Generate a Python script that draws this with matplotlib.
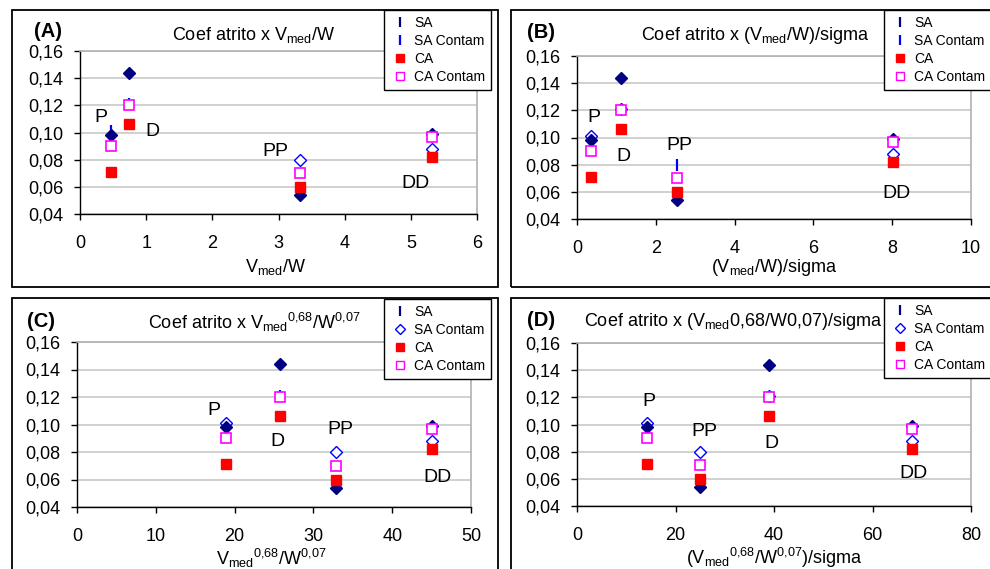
import matplotlib
matplotlib.use('Agg')
import matplotlib.pyplot as plt
from matplotlib.patches import Rectangle
from matplotlib.lines import Line2D
from matplotlib.ticker import FuncFormatter

plt.rcParams['font.family'] = ['Liberation Sans', 'DejaVu Sans']
plt.rcParams['mathtext.fontset'] = 'custom'
plt.rcParams['mathtext.rm'] = 'Liberation Sans'
plt.rcParams['mathtext.it'] = 'Liberation Sans'

W, H = 990, 569

# data (same friction coefficients in all four panels)
groups = ['P', 'D', 'PP', 'DD']
sa = [0.098, 0.144, 0.054, 0.099]
sa_contam = [0.101, 0.121, 0.080, 0.088]
ca = [0.071, 0.106, 0.060, 0.082]
ca_contam = [0.090, 0.120, 0.070, 0.097]

x_a = [0.47, 0.74, 3.33, 5.32]
x_b = [0.36, 1.12, 2.53, 8.03]
x_c = [18.9, 25.7, 32.9, 45.1]
x_d = [14.3, 39.0, 25.0, 68.0]

y_ticks = [0.04, 0.06, 0.08, 0.10, 0.12, 0.14, 0.16]

# where the P/D/PP/DD labels sit, in data units of each panel
lab_a = [(0.32, 0.111), (1.09, 0.101), (2.95, 0.0857), (5.07, 0.0628)]
lab_b = [(0.43, 0.115), (1.19, 0.0857), (2.61, 0.0938), (8.12, 0.059)]
lab_c = [(17.4, 0.110), (25.4, 0.0873), (33.4, 0.096), (45.7, 0.0618)]
lab_d = [(14.6, 0.117), (39.4, 0.0857), (25.8, 0.0945), (68.4, 0.0636)]

vw_pow = r'$\mathrm{V_{med}{}^{0{,}68}/W^{0{,}07}}$'

panels = [
    dict(name='(A)', x=x_a, xmax=6, step=1, labs=lab_a,
         ax=(80, 51, 477, 214), box=(12, 10, 498, 287), leg=(384, 10),
         title=r'Coef atrito x V$_{\mathrm{med}}$/W', tpos=(254, 40), npos=(34, 37),
         xlabel=r'V$_{\mathrm{med}}$/W', xpos=(276, 272),
         cmk=['|', '|', 'D', 'D'], legmk='|'),
    dict(name='(B)', x=x_b, xmax=10, step=2, labs=lab_b,
         ax=(577, 56, 971, 219), box=(511, 10, 1000, 287), leg=(884, 10),
         title=r'Coef atrito x (V$_{\mathrm{med}}$/W)/sigma', tpos=(755, 40), npos=(527, 38),
         xlabel=r'(V$_{\mathrm{med}}$/W)/sigma', xpos=(774, 272),
         cmk=['D', 'D', '|', 'D'], legmk='|'),
    dict(name='(C)', x=x_c, xmax=50, step=10, labs=lab_c,
         ax=(77, 342, 471, 507), box=(12, 298, 498, 580), leg=(384, 299),
         title='Coef atrito x ' + vw_pow,
         tpos=(254, 329), npos=(27, 327),
         xlabel=vw_pow, xpos=(271, 565),
         cmk=['D', '|', 'D', 'D'], legmk='D'),
    dict(name='(D)', x=x_d, xmax=80, step=20, labs=lab_d,
         ax=(577, 343, 971, 506), box=(511, 298, 1000, 580), leg=(884, 298),
         title=r'Coef atrito x (V$_{\mathrm{med}}$0,68/W0,07)/sigma', tpos=(733, 326), npos=(527, 326),
         xlabel='(' + vw_pow + ')/sigma', xpos=(774, 564),
         cmk=['D', 'D', 'D', 'D'], legmk='D'),
]

NAVY, BLUE, RED, MAG = '#000080', '#0000ff', '#ff0000', '#ff00ff'


def fx(px):
    return px / W


def fy(py):
    return 1 - py / H


fig = plt.figure(figsize=(W / 100, H / 100), dpi=100)

for p in panels:
    x0, y0, x1, y1 = p['box']
    fig.patches.append(Rectangle((fx(x0), fy(y1)), fx(x1 - x0), (y1 - y0) / H,
                                 transform=fig.transFigure, fill=False,
                                 edgecolor='black', lw=1.3, clip_on=False))

    l, t, r, b = p['ax']
    ax = fig.add_axes([fx(l), fy(b), fx(r - l), (b - t) / H])
    ax.set_xlim(0, p['xmax'])
    ax.set_ylim(0.04, 0.16)
    ax.set_xticks(range(0, p['xmax'] + 1, p['step']))
    ax.set_yticks(y_ticks)
    ax.yaxis.set_major_formatter(FuncFormatter(lambda v, pos: f'{v:.2f}'.replace('.', ',')))
    ax.tick_params(direction='out', length=4, width=1, labelsize=13)
    ax.tick_params(axis='x', pad=11)
    ax.tick_params(axis='y', pad=8)
    ax.grid(axis='y', color='#c8c8c8', lw=1.2)
    ax.set_axisbelow(True)
    for s in ('top', 'right'):
        ax.spines[s].set_color('#b0b0b0')
        ax.spines[s].set_linewidth(1.2)
    for s in ('left', 'bottom'):
        ax.spines[s].set_linewidth(1.0)

    xs = p['x']
    ax.plot(xs, sa, 'D', color=NAVY, ms=6.3, ls='none', zorder=3)
    for xi, yi, mk in zip(xs, sa_contam, p['cmk']):
        if mk == '|':
            ax.plot([xi], [yi], '|', color=BLUE, ms=8.5, mew=1.6, zorder=2.5)
        else:
            ax.plot([xi], [yi], 'D', mfc='white', mec=BLUE, ms=6, mew=1, zorder=2.5)
    ax.plot(xs, ca, 's', color=RED, ms=7.3, ls='none', zorder=4)
    ax.plot(xs, ca_contam, 's', mfc='white', mec=MAG, ms=7.3, mew=1.2, ls='none', zorder=4)

    for g, (lx, ly) in zip(groups, p['labs']):
        ax.text(lx, ly, g, fontsize=14, ha='center', va='center', zorder=5)

    fig.text(fx(p['tpos'][0]), fy(p['tpos'][1]), p['title'], fontsize=13,
             ha='center', va='baseline')
    fig.text(fx(p['npos'][0]), fy(p['npos'][1]), p['name'], fontsize=14.5,
             fontweight='bold', ha='left', va='baseline')
    fig.text(fx(p['xpos'][0]), fy(p['xpos'][1]), p['xlabel'], fontsize=13,
             ha='center', va='baseline')

    if p['legmk'] == '|':
        h2 = Line2D([], [], ls='none', marker='|', color=BLUE, ms=7, mew=1.6)
    else:
        h2 = Line2D([], [], ls='none', marker='D', mfc='white', mec=BLUE, ms=5, mew=1)
    handles = [
        Line2D([], [], ls='none', marker='|', color=NAVY, ms=7, mew=1.6),
        h2,
        Line2D([], [], ls='none', marker='s', color=RED, ms=6),
        Line2D([], [], ls='none', marker='s', mfc='white', mec=MAG, ms=6, mew=1),
    ]
    leg = fig.legend(handles, ['SA', 'SA Contam', 'CA', 'CA Contam'],
                     loc='upper left', bbox_to_anchor=(fx(p['leg'][0]), fy(p['leg'][1])),
                     bbox_transform=fig.transFigure, borderaxespad=0, fontsize=10,
                     frameon=True, fancybox=False, edgecolor='black', framealpha=1,
                     handlelength=1.4, handletextpad=0.3, borderpad=0.45,
                     labelspacing=0.28)
    leg.get_frame().set_linewidth(1.0)

fig.savefig('out.png', dpi=100)
